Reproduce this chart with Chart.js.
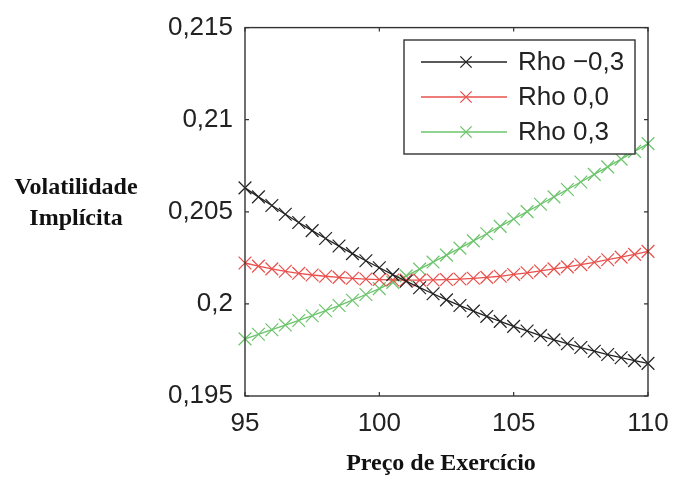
<!DOCTYPE html>
<html>
<head>
<meta charset="utf-8">
<script src="https://cdn.jsdelivr.net/npm/chart.js@4/dist/chart.umd.min.js"></script>
<style>
  html, body { margin: 0; padding: 0; background: #fff; }
  #wrap { width: 674px; height: 480px; position: relative; }
</style>
</head>
<body>
<div id="wrap"><canvas id="smile"></canvas></div>
<script>
// strike grid (preço de exercício)
var strikes = [95, 95.5, 96, 96.5, 97, 97.5, 98, 98.5, 99, 99.5, 100, 100.5, 101, 101.5, 102, 102.5,
               103, 103.5, 104, 104.5, 105, 105.5, 106, 106.5, 107, 107.5, 108, 108.5, 109, 109.5, 110];

// implied vol for each correlation
var volRhoNeg = [0.20630, 0.20581, 0.20534, 0.20487, 0.20442, 0.20398, 0.20355, 0.20314, 0.20273, 0.20234,
                 0.20196, 0.20159, 0.20123, 0.20088, 0.20055, 0.20022, 0.19991, 0.19961, 0.19932, 0.19905,
                 0.19878, 0.19853, 0.19828, 0.19805, 0.19784, 0.19763, 0.19743, 0.19725, 0.19708, 0.19692, 0.19677];
var volRhoZero = [0.20222, 0.20205, 0.20190, 0.20177, 0.20166, 0.20157, 0.20150, 0.20144, 0.20139, 0.20135,
                  0.20132, 0.20130, 0.20129, 0.20129, 0.20130, 0.20132, 0.20135, 0.20139, 0.20144, 0.20150,
                  0.20160, 0.20169, 0.20179, 0.20190, 0.20201, 0.20213, 0.20226, 0.20240, 0.20254, 0.20269, 0.20285];
var volRhoPos = [0.19810, 0.19835, 0.19860, 0.19885, 0.19910, 0.19936, 0.19963, 0.19991, 0.20020, 0.20051,
                 0.20083, 0.20117, 0.20152, 0.20189, 0.20227, 0.20265, 0.20303, 0.20342, 0.20381, 0.20421,
                 0.20461, 0.20501, 0.20541, 0.20581, 0.20621, 0.20662, 0.20703, 0.20744, 0.20786, 0.20828, 0.20870];

var seriesNames = ['Rho \u22120,3', 'Rho 0,0', 'Rho 0,3'];
var xTicks = [95, 100, 105, 110];
var yTicks = [0.195, 0.2, 0.205, 0.21, 0.215];

var axisFont = { family: '"Liberation Sans", Arial, sans-serif', size: 26 };
var titleFont = 'bold 24px "Liberation Serif", "Times New Roman", serif';

function pts(vals) {
  return strikes.map(function (s, i) { return { x: s, y: vals[i] }; });
}

function serie(label, vals, color) {
  return {
    label: label,
    data: pts(vals),
    borderColor: color,
    backgroundColor: color,
    borderWidth: 1.3,
    pointStyle: 'crossRot',
    pointRadius: 9,
    pointBorderWidth: 1.2,
    pointHoverRadius: 9,
    tension: 0,
    clip: false
  };
}

// box around the axes with inward ticks on all four sides
var frame = {
  id: 'frame',
  afterDraw: function (chart) {
    var ctx = chart.ctx, a = chart.chartArea;
    var xs = chart.scales.x, ys = chart.scales.y;
    ctx.save();
    ctx.strokeStyle = '#333';
    ctx.lineWidth = 1.4;
    ctx.strokeRect(a.left, a.top, a.right - a.left, a.bottom - a.top);
    ctx.lineWidth = 1.2;
    ctx.beginPath();
    xTicks.forEach(function (t) {
      var px = xs.getPixelForValue(t);
      ctx.moveTo(px, a.bottom); ctx.lineTo(px, a.bottom - 4);
      ctx.moveTo(px, a.top); ctx.lineTo(px, a.top + 4);
    });
    yTicks.forEach(function (t) {
      var py = ys.getPixelForValue(t);
      ctx.moveTo(a.left, py); ctx.lineTo(a.left + 4, py);
      ctx.moveTo(a.right, py); ctx.lineTo(a.right - 4, py);
    });
    ctx.stroke();

    // axis titles
    ctx.fillStyle = '#111';
    ctx.font = titleFont;
    ctx.textAlign = 'center';
    ctx.textBaseline = 'middle';
    ctx.fillText('Volatilidade', 76, 188);
    ctx.fillText('Implícita', 76, 219);
    ctx.fillText('Preço de Exercício', 441, 464);

    // legend box
    var lx = 404, ly = 40, lw = 231, lh = 114;
    ctx.fillStyle = '#fff';
    ctx.fillRect(lx, ly, lw, lh);
    ctx.strokeStyle = '#333';
    ctx.lineWidth = 1.4;
    ctx.strokeRect(lx, ly, lw, lh);
    chart.data.datasets.forEach(function (ds, i) {
      var cy = 62 + i * 35;
      ctx.strokeStyle = ds.borderColor;
      ctx.lineWidth = 1.3;
      ctx.beginPath();
      ctx.moveTo(421, cy); ctx.lineTo(507, cy);
      ctx.stroke();
      Chart.helpers.drawPoint(ctx, { pointStyle: 'crossRot', radius: 8, rotation: 0, borderWidth: 1.2 }, 466, cy);
      ctx.fillStyle = '#222';
      ctx.font = '26px "Liberation Sans", Arial, sans-serif';
      ctx.textAlign = 'left';
      ctx.fillText(ds.label, 518, cy + 1);
    });
    ctx.restore();
  }
};

new Chart(document.getElementById('smile'), {
  type: 'line',
  data: {
    datasets: [
      serie(seriesNames[0], volRhoNeg, '#222222'),
      serie(seriesNames[1], volRhoZero, '#e8504c'),
      serie(seriesNames[2], volRhoPos, '#6cc46c')
    ]
  },
  options: {
    responsive: true,
    maintainAspectRatio: false,
    animation: false,
    events: [],
    layout: { padding: { top: 26, right: 26, left: 0, bottom: 0 } },
    plugins: {
      legend: { display: false },
      tooltip: { enabled: false }
    },
    scales: {
      x: {
        type: 'linear',
        min: 95,
        max: 110,
        afterBuildTicks: function (s) { s.ticks = xTicks.map(function (v) { return { value: v }; }); },
        afterFit: function (s) {
          s.height = 84;
          // labels may hang past the edges, the outer padding covers them
          s.paddingLeft = 0;
          s.paddingRight = 0;
        },
        grid: { display: false, drawTicks: false },
        border: { display: false },
        ticks: {
          color: '#222',
          font: axisFont,
          padding: 12,
          maxRotation: 0,
          callback: function (v) { return String(v); }
        }
      },
      y: {
        min: 0.195,
        max: 0.215,
        afterBuildTicks: function (s) { s.ticks = yTicks.map(function (v) { return { value: v }; }); },
        afterFit: function (s) { s.width = 245; },
        grid: { display: false, drawTicks: false },
        border: { display: false },
        ticks: {
          color: '#222',
          font: axisFont,
          padding: 12,
          callback: function (v) { return String(+v.toFixed(3)).replace('.', ','); }
        }
      }
    }
  },
  plugins: [frame]
});
</script>
</body>
</html>
